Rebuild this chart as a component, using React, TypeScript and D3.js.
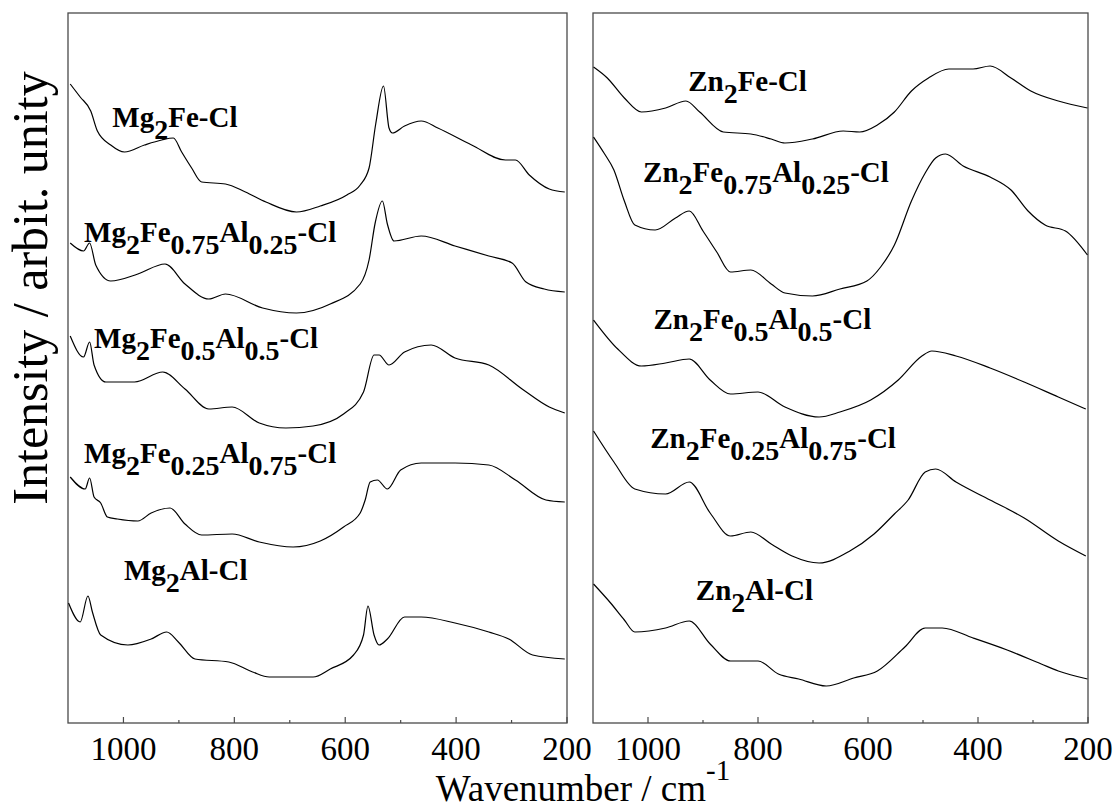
import React from 'react';
import * as d3 from 'd3';

// ---------------- data (wavenumber cm-1, intensity a.u.) ----------------
const xDomain: [number, number] = [1100, 200];
const yDomain: [number, number] = [0, 71];
const majorTicks = [1000, 800, 600, 400, 200];
const minorTicks = [900, 700, 500, 300];

const mg2Fe: [number, number][] = [
  [1096, 63.9], [1078, 62.6], [1059, 61.2], [1047, 59.2], [1023, 57.8], [998, 57.1], [962, 57.8],
  [931, 58.3], [910, 58.5], [895, 57.1], [877, 55.5], [859, 54.1], [816, 53.9], [780, 53.1],
  [743, 52.1], [688, 51.1], [645, 51.7], [597, 52.8], [573, 53.8], [557, 55.5], [545, 59.9],
  [531, 63.7], [521, 59.5], [515, 59.0], [493, 59.7], [463, 60.2], [433, 59.5], [372, 57.8],
  [311, 56.3], [293, 56.3], [268, 54.8], [232, 53.4], [204, 53.1],
];
const mg2Fe075Al025: [number, number][] = [
  [1096, 48.0], [1072, 47.2], [1061, 48.0], [1050, 45.8], [1023, 44.2], [974, 44.9], [925, 45.9],
  [889, 43.9], [846, 42.4], [816, 42.9], [749, 41.5], [688, 41.0], [627, 41.9], [573, 43.9],
  [557, 46.3], [546, 50.0], [533, 52.2], [524, 49.9], [512, 48.2], [463, 48.7], [402, 47.7],
  [341, 46.7], [299, 46.0], [274, 44.1], [241, 43.4], [204, 43.1],
];
const mg2Fe05Al05: [number, number][] = [
  [1096, 38.7], [1072, 36.6], [1061, 38.1], [1053, 35.8], [1032, 34.1], [980, 34.1], [929, 35.1],
  [889, 33.4], [846, 31.4], [804, 31.6], [755, 30.0], [707, 29.5], [658, 29.7], [603, 30.9],
  [567, 33.1], [548, 36.8], [539, 36.8], [521, 35.8], [493, 37.1], [445, 37.8], [402, 36.5],
  [341, 35.8], [281, 33.4], [232, 31.6], [204, 31.0],
];
const mg2Fe025Al075: [number, number][] = [
  [1096, 24.6], [1069, 23.4], [1061, 24.5], [1053, 22.6], [1041, 22.0], [1029, 20.6], [1011, 20.4],
  [974, 20.2], [950, 21.0], [916, 21.5], [889, 19.9], [859, 18.8], [804, 18.9], [755, 18.1],
  [694, 17.6], [645, 18.2], [603, 19.6], [573, 21.0], [564, 22.3], [555, 24.1], [542, 24.3],
  [524, 23.4], [500, 25.3], [463, 26.0], [402, 26.0], [341, 25.8], [293, 24.3], [238, 22.3],
  [204, 22.1],
];
const mg2Al: [number, number][] = [
  [1099, 12.0], [1078, 10.1], [1064, 12.7], [1056, 11.1], [1041, 8.8], [992, 7.8], [950, 8.4],
  [922, 9.1], [901, 8.1], [871, 6.4], [810, 6.1], [767, 5.1], [737, 4.6], [658, 4.6], [627, 5.4],
  [585, 6.8], [567, 8.8], [559, 11.7], [548, 8.8], [539, 7.8], [524, 8.4], [493, 10.6],
  [463, 10.6], [402, 10.0], [341, 9.1], [305, 8.4], [262, 6.8], [204, 6.4],
];

const zn2Fe: [number, number][] = [
  [1099, 65.6], [1074, 64.5], [1043, 62.5], [1012, 61.1], [968, 61.5], [931, 62.2], [906, 61.1],
  [863, 59.1], [813, 58.9], [776, 58.4], [751, 58.0], [701, 58.4], [645, 59.2], [615, 59.1],
  [583, 59.8], [552, 61.1], [521, 63.2], [490, 64.5], [453, 65.4], [409, 65.4], [378, 65.7],
  [340, 64.5], [304, 63.2], [254, 62.2], [201, 61.5],
];
const zn2Fe075Al025: [number, number][] = [
  [1099, 58.6], [1080, 57.0], [1062, 55.3], [1043, 52.2], [1024, 49.8], [987, 49.3], [950, 50.5],
  [925, 51.2], [900, 49.2], [875, 47.1], [850, 45.1], [813, 45.3], [776, 43.9], [751, 43.0],
  [701, 42.7], [651, 43.4], [602, 44.2], [577, 45.6], [552, 47.8], [521, 52.2], [496, 55.0],
  [477, 56.5], [459, 56.9], [427, 55.7], [378, 54.6], [340, 53.3], [309, 51.2], [278, 49.8],
  [241, 49.2], [201, 46.8],
];
const zn2Fe05Al05: [number, number][] = [
  [1099, 40.3], [1055, 37.4], [1012, 35.7], [968, 36.0], [925, 36.4], [887, 34.3], [850, 32.9],
  [800, 33.1], [751, 31.6], [689, 30.6], [651, 31.1], [595, 32.3], [545, 34.3], [502, 36.7],
  [484, 37.2], [440, 36.7], [378, 35.5], [316, 34.1], [254, 32.6], [204, 31.4],
];
const zn2Fe025Al075: [number, number][] = [
  [1099, 29.2], [1062, 26.1], [1024, 23.4], [968, 22.9], [925, 24.1], [887, 21.0], [850, 18.7],
  [813, 19.1], [776, 17.9], [738, 16.7], [689, 16.0], [633, 17.2], [589, 18.9], [552, 20.9],
  [527, 22.3], [496, 25.1], [477, 25.4], [440, 24.1], [378, 22.3], [316, 20.5], [254, 18.2],
  [204, 16.7],
];
const zn2Al: [number, number][] = [
  [1099, 13.9], [1068, 12.0], [1043, 10.3], [1024, 9.1], [968, 9.5], [925, 10.2], [887, 7.9],
  [850, 6.2], [800, 6.2], [763, 4.9], [726, 4.4], [676, 3.7], [626, 4.5], [583, 5.2], [533, 7.6],
  [496, 9.5], [465, 9.5], [409, 8.5], [347, 7.3], [285, 5.9], [254, 5.2], [201, 4.4],
];

type Part = { t: string; sub?: boolean };
const lblMg2Fe: Part[] = [{ t: 'Mg' }, { t: '2', sub: true }, { t: 'Fe-Cl' }];
const lblMg2Fe075: Part[] = [{ t: 'Mg' }, { t: '2', sub: true }, { t: 'Fe' }, { t: '0.75', sub: true }, { t: 'Al' }, { t: '0.25', sub: true }, { t: '-Cl' }];
const lblMg2Fe05: Part[] = [{ t: 'Mg' }, { t: '2', sub: true }, { t: 'Fe' }, { t: '0.5', sub: true }, { t: 'Al' }, { t: '0.5', sub: true }, { t: '-Cl' }];
const lblMg2Fe025: Part[] = [{ t: 'Mg' }, { t: '2', sub: true }, { t: 'Fe' }, { t: '0.25', sub: true }, { t: 'Al' }, { t: '0.75', sub: true }, { t: '-Cl' }];
const lblMg2Al: Part[] = [{ t: 'Mg' }, { t: '2', sub: true }, { t: 'Al-Cl' }];
const lblZn2Fe: Part[] = [{ t: 'Zn' }, { t: '2', sub: true }, { t: 'Fe-Cl' }];
const lblZn2Fe075: Part[] = [{ t: 'Zn' }, { t: '2', sub: true }, { t: 'Fe' }, { t: '0.75', sub: true }, { t: 'Al' }, { t: '0.25', sub: true }, { t: '-Cl' }];
const lblZn2Fe05: Part[] = [{ t: 'Zn' }, { t: '2', sub: true }, { t: 'Fe' }, { t: '0.5', sub: true }, { t: 'Al' }, { t: '0.5', sub: true }, { t: '-Cl' }];
const lblZn2Fe025: Part[] = [{ t: 'Zn' }, { t: '2', sub: true }, { t: 'Fe' }, { t: '0.25', sub: true }, { t: 'Al' }, { t: '0.75', sub: true }, { t: '-Cl' }];
const lblZn2Al: Part[] = [{ t: 'Zn' }, { t: '2', sub: true }, { t: 'Al-Cl' }];

// label anchors in data coordinates [wavenumber, intensity]
const leftSeries = [
  { data: mg2Fe, label: lblMg2Fe, at: [1020, 59.6] },
  { data: mg2Fe075Al025, label: lblMg2Fe075, at: [1071, 48.1] },
  { data: mg2Fe05Al05, label: lblMg2Fe05, at: [1053, 37.5] },
  { data: mg2Fe025Al075, label: lblMg2Fe025, at: [1071, 26.0] },
  { data: mg2Al, label: lblMg2Al, at: [999, 14.3] },
];
const rightSeries = [
  { data: zn2Fe, label: lblZn2Fe, at: [927, 63.2] },
  { data: zn2Fe075Al025, label: lblZn2Fe075, at: [1009, 54.1] },
  { data: zn2Fe05Al05, label: lblZn2Fe05, at: [990, 39.4] },
  { data: zn2Fe025Al075, label: lblZn2Fe025, at: [996, 27.5] },
  { data: zn2Al, label: lblZn2Al, at: [913, 12.3] },
];

// ---------------- layout ----------------
const W = 1116, H = 809;
const top = 13, bottom = 723;
const serif = 'Liberation Serif';

function Label({ parts, x, y }: { parts: Part[]; x: number; y: number }) {
  const shift = 12;
  let cur = 0;
  const spans = parts.map((p, i) => {
    const target = p.sub ? shift : 0;
    const dy = target - cur;
    cur = target;
    return (
      <tspan key={i} dy={dy} fontSize={p.sub ? 28 : 29}>{p.t}</tspan>
    );
  });
  return (
    <text x={x} y={y} fontFamily={serif} fontWeight="bold" fill="#000">{spans}</text>
  );
}

function Panel({ x0, x1, series }: { x0: number; x1: number; series: typeof leftSeries }) {
  const x = d3.scaleLinear().domain(xDomain).range([x0, x1]);
  const y = d3.scaleLinear().domain(yDomain).range([bottom, top]);
  const line = d3.line<[number, number]>().x(d => x(d[0])).y(d => y(d[1])).curve(d3.curveMonotoneX);
  return (
    <g>
      <rect x={x0} y={top} width={x1 - x0} height={bottom - top} fill="none" stroke="#4a4a4a" strokeWidth={1.3} />
      {series.map((s, i) => (
        <path key={i} d={line(s.data) || ''} fill="none" stroke="#000" strokeWidth={1.2} strokeLinejoin="round" />
      ))}
      {series.map((s, i) => (
        <Label key={'l' + i} parts={s.label} x={x(s.at[0])} y={y(s.at[1])} />
      ))}
      {majorTicks.map(t => (
        <line key={'M' + t} x1={x(t)} x2={x(t)} y1={bottom} y2={bottom - 6} stroke="#4a4a4a" strokeWidth={1.2} />
      ))}
      {minorTicks.map(t => (
        <line key={'m' + t} x1={x(t)} x2={x(t)} y1={bottom} y2={bottom - 3} stroke="#4a4a4a" strokeWidth={1.2} />
      ))}
      {majorTicks.map(t => (
        <text key={'t' + t} x={x(t)} y={760} textAnchor="middle" fontFamily={serif} fontSize={33} fill="#000">{t}</text>
      ))}
    </g>
  );
}

export default function App() {
  return (
    <svg width={W} height={H} style={{ position: 'absolute', left: 0, top: 0, background: '#fff' }}>
      <rect x={0} y={0} width={W} height={H} fill="#fff" />
      <Panel x0={68} x1={567} series={leftSeries} />
      <Panel x0={593} x1={1088} series={rightSeries} />
      <text x={583} y={801} textAnchor="middle" fontFamily={serif} fontSize={37} fill="#000">
        Wavenumber / cm<tspan dy={-21} fontSize={29}>-1</tspan>
      </text>
      <text transform="translate(47, 288) rotate(-90)" textAnchor="middle" fontFamily={serif} fontSize={50} fill="#000">
        Intensity / arbit. unity
      </text>
    </svg>
  );
}
